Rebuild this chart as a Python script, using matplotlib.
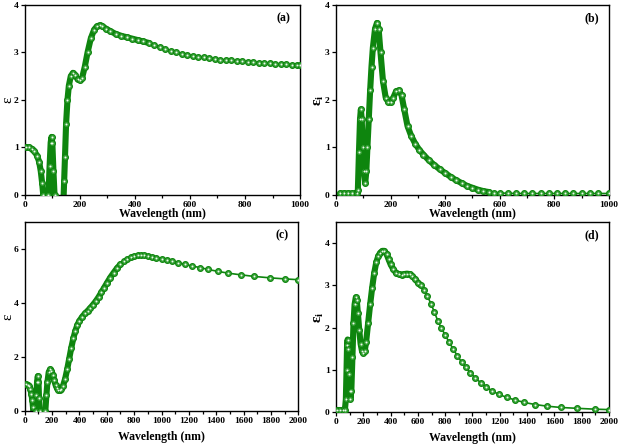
import matplotlib
matplotlib.use("Agg")
import matplotlib.pyplot as plt
import numpy as np

plt.rcParams['font.family'] = ['Liberation Serif', 'DejaVu Serif']
plt.rcParams['font.weight'] = 'bold'
plt.rcParams['mathtext.fontset'] = 'custom'
plt.rcParams['mathtext.rm'] = 'Liberation Serif:bold'
plt.rcParams['mathtext.it'] = 'Liberation Serif:bold'
plt.rcParams['mathtext.bf'] = 'Liberation Serif:bold'

# (a) real part, 0-1000 nm
lam_a = [5, 15, 25, 35, 45, 52, 58, 63, 67, 72, 78, 83, 86, 90, 94, 97, 100, 104, 108,
         115, 125, 134, 140, 143, 146, 150, 155, 160, 167, 175, 183, 192, 200, 208, 218,
         228, 240, 252, 262, 272, 282, 295, 310, 330, 350, 370, 390, 410, 430, 450, 470,
         490, 510, 530, 550, 570, 590, 610, 630, 650, 670, 690, 710, 730, 750, 770, 790,
         810, 830, 850, 870, 890, 910, 930, 950, 970, 990, 1000]
eps_a = [1.00, 1.00, 0.97, 0.92, 0.82, 0.70, 0.50, 0.25, 0.0, -0.5, -0.6, -0.3, 0.0, 0.6,
         1.1, 1.22, 1.1, 0.5, 0.0, -0.8, -1.0, -0.7, -0.2, 0.3, 0.8, 1.5, 2.0, 2.3, 2.5,
         2.57, 2.52, 2.43, 2.41, 2.46, 2.7, 3.0, 3.3, 3.48, 3.55, 3.57, 3.55, 3.5, 3.45,
         3.39, 3.35, 3.32, 3.29, 3.26, 3.23, 3.2, 3.16, 3.12, 3.08, 3.04, 3.0, 2.97, 2.95,
         2.93, 2.91, 2.895, 2.88, 2.865, 2.85, 2.84, 2.83, 2.82, 2.81, 2.8, 2.79, 2.785,
         2.775, 2.77, 2.76, 2.755, 2.75, 2.745, 2.735, 2.73]

# (b) imaginary part, 0-1000 nm
lam_b = [15, 30, 45, 60, 75, 80, 84, 88, 91, 94, 98, 102, 107, 111, 115, 120, 125, 130,
         135, 143, 150, 156, 163, 172, 182, 192, 200, 210, 220, 230, 240, 250, 262, 275,
         290, 305, 320, 340, 360, 380, 400, 420, 440, 460, 480, 500, 520, 540, 560, 580,
         600, 630, 660, 690, 720, 750, 780, 810, 840, 870, 900, 930, 960, 1000]
epsi_b = [0.03, 0.03, 0.03, 0.03, 0.03, 0.1, 0.9, 1.6, 1.8, 1.6, 1.0, 0.5, 0.25, 0.5, 1.0,
          1.6, 2.2, 2.7, 3.1, 3.5, 3.62, 3.5, 3.0, 2.4, 2.05, 1.95, 1.95, 2.05, 2.18, 2.2,
          2.1, 1.8, 1.45, 1.25, 1.08, 0.95, 0.85, 0.73, 0.63, 0.54, 0.46, 0.38, 0.31, 0.25,
          0.19, 0.15, 0.11, 0.08, 0.06, 0.05, 0.04, 0.035, 0.03, 0.03, 0.03, 0.03, 0.03,
          0.03, 0.03, 0.03, 0.03, 0.03, 0.03, 0.03]

# (c) real part, 0-2000 nm
lam_c = [10, 20, 30, 40, 48, 55, 60, 65, 72, 80, 85, 90, 95, 100, 104, 108, 115, 130, 142,
         150, 158, 166, 175, 185, 195, 205, 215, 225, 235, 245, 255, 265, 280, 295, 310,
         325, 340, 355, 370, 385, 400, 420, 440, 460, 480, 500, 520, 540, 560, 580, 600,
         625, 650, 675, 700, 725, 750, 775, 800, 825, 850, 875, 900, 930, 960, 1000, 1040,
         1080, 1120, 1170, 1220, 1280, 1340, 1410, 1490, 1580, 1680, 1790, 1900, 2000]
eps_c = [1.0, 0.98, 0.93, 0.83, 0.65, 0.4, 0.15, -0.3, -0.3, 0.0, 0.6, 1.1, 1.3, 1.1, 0.5,
         0.0, -0.8, -1.0, -0.4, 0.0, 0.6, 1.1, 1.45, 1.55, 1.5, 1.35, 1.15, 0.97, 0.85,
         0.79, 0.78, 0.82, 0.95, 1.2, 1.55, 1.95, 2.35, 2.7, 2.98, 3.2, 3.35, 3.5, 3.62,
         3.72, 3.83, 3.95, 4.08, 4.23, 4.4, 4.57, 4.74, 4.95, 5.13, 5.3, 5.44, 5.55, 5.64,
         5.7, 5.74, 5.77, 5.78, 5.77, 5.75, 5.72, 5.69, 5.65, 5.6, 5.55, 5.5, 5.44, 5.38,
         5.32, 5.25, 5.18, 5.11, 5.05, 4.99, 4.94, 4.9, 4.87]

# (d) imaginary part, 0-2000 nm
lam_d = [10, 30, 50, 65, 72, 77, 81, 85, 90, 95, 100, 106, 112, 120, 128, 136, 145, 152,
         160, 170, 180, 190, 200, 210, 220, 235, 250, 265, 280, 295, 310, 325, 340, 355,
         370, 385, 400, 420, 440, 460, 480, 500, 520, 540, 560, 580, 600, 620, 645, 670,
         695, 720, 745, 770, 800, 830, 860, 890, 920, 950, 985, 1020, 1060, 1100, 1145,
         1195, 1250, 1310, 1380, 1460, 1550, 1650, 1770, 1900, 2000]
epsi_d = [0.05, 0.05, 0.05, 0.06, 0.3, 1.0, 1.6, 1.72, 1.5, 0.9, 0.5, 0.32, 0.5, 1.3, 2.1,
          2.55, 2.72, 2.65, 2.35, 1.95, 1.62, 1.45, 1.4, 1.45, 1.65, 2.1, 2.55, 2.95, 3.3,
          3.55, 3.7, 3.78, 3.82, 3.82, 3.75, 3.62, 3.5, 3.38, 3.3, 3.27, 3.26, 3.27, 3.28,
          3.27, 3.22, 3.15, 3.07, 3.0, 2.9, 2.75, 2.57, 2.38, 2.17, 2.0, 1.83, 1.65, 1.49,
          1.33, 1.19, 1.06, 0.93, 0.81, 0.7, 0.6, 0.5, 0.42, 0.35, 0.29, 0.23, 0.18, 0.14,
          0.11, 0.09, 0.07, 0.06]

green = '#0e850e'

fig = plt.figure(figsize=(6.2, 4.47), dpi=100)
positions = [[0.040, 0.564, 0.444, 0.425], [0.542, 0.564, 0.440, 0.425],
             [0.040, 0.080, 0.441, 0.423], [0.542, 0.078, 0.440, 0.425]]
panels = [(lam_a, eps_a, '(a)', 'ε', 1000, 4, 1, 450),
          (lam_b, epsi_b, '(b)', r'$\mathrm{ε_i}$', 1000, 4, 1, 560),
          (lam_c, eps_c, '(c)', 'ε', 2000, 7, 2, 720),
          (lam_d, epsi_d, '(d)', r'$\mathrm{ε_i}$', 2000, 4.5, 1, 640)]

for i, (x, y, tag, ylab, xmax, ymax, ystep, dense) in enumerate(panels):
    ax = fig.add_axes(positions[i])
    x = np.array(x)
    y = np.array(y)
    sel = x <= dense
    # dense band where the markers overlap
    ax.plot(x[sel], y[sel], color=green, lw=4.4, solid_capstyle='round', zorder=2)
    ax.plot(x, y, color=green, lw=1.2, zorder=3)
    ax.plot(x, y, 'o', ms=4.2, mfc='#3aa53a', mec=green, mew=0.8, zorder=4)
    ax.plot(x, y, 'o', ms=1.4, mfc='#f0f8f0', mec='none', zorder=5)
    ax.set_xlim(0, xmax)
    ax.set_ylim(0, ymax)
    ax.set_xticks(np.arange(0, xmax + 1, 200))
    ax.set_xticks(np.arange(0, xmax + 1, 100), minor=True)
    ax.set_yticks(np.arange(0, int(ymax) + 1, ystep))
    ax.tick_params(which='both', direction='out', labelsize=6.8, width=0.9, pad=1.5)
    ax.tick_params(which='major', length=3)
    ax.tick_params(which='minor', length=1.8)
    for s in ax.spines.values():
        s.set_linewidth(1.0)
    ax.set_xlabel('Wavelength (nm)', fontsize=8.5, fontweight='bold',
                  labelpad=-1 if i < 2 else 4)
    ax.set_ylabel(ylab, fontsize=11)
    ax.yaxis.set_label_coords(-0.038, 0.5)
    ax.text(0.965, 0.93, tag, transform=ax.transAxes, ha='right', va='center',
            fontsize=8.5, fontweight='bold')

fig.savefig('out.png', dpi=100)
